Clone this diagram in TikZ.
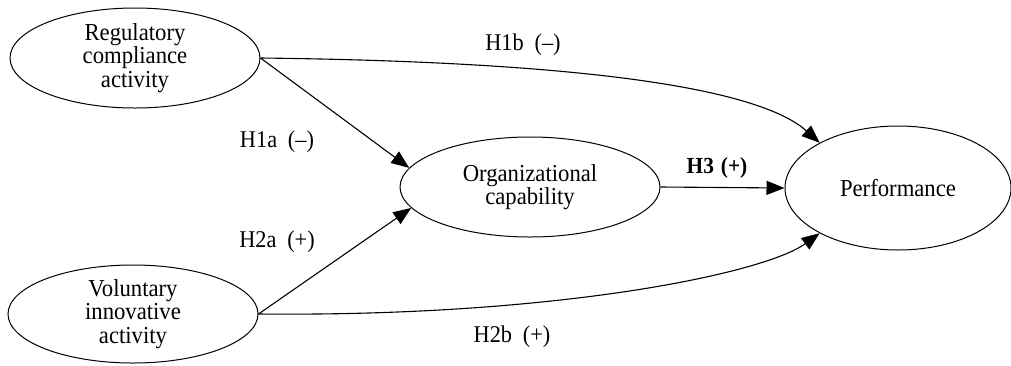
\documentclass[tikz,border=0pt]{standalone}
\usepackage{fontspec}
\setmainfont{Liberation Serif}[FakeStretch=0.93]
\usetikzlibrary{shapes.geometric,arrows.meta}
\begin{document}
\begin{tikzpicture}[x=0.5pt,y=-0.5pt,
  lat/.style={ellipse,draw,line width=0.5pt,inner sep=0pt,align=center,
    font=\fontsize{12.2}{11.6}\selectfont},
  conn/.style={draw,line width=0.55pt,-{Triangle[length=9pt,width=7pt]}},
  hyp/.style={inner sep=0pt,font=\fontsize{12}{12}\selectfont},
  hypb/.style={inner sep=0pt,font=\fontsize{11.5}{12}\selectfont\bfseries}
]
\useasboundingbox (0,0) rectangle (1011,365);
\node[lat,minimum width=125pt,minimum height=50pt] (reg) at (135,58) {Regulatory\\compliance\\activity};
\node[lat,minimum width=125pt,minimum height=49pt] (vol) at (133,314) {Voluntary\\innovative\\activity};
\node[lat,minimum width=130pt,minimum height=50pt] (org) at (530,187) {Organizational\\capability};
\node[lat,minimum width=113pt,minimum height=62pt] (perf) at (898,188) {Performance};

\draw[conn] (reg.east) -- (org.171);
\draw[conn] (vol.east) -- (org.190);
\draw[conn] (org.east) -- (perf.west);
\draw[conn] (reg.east) .. controls +(340,4) and +(-58,-52) .. (perf.150);
\draw[conn] (vol.east) .. controls +(300,3) and +(-55,40) .. (perf.210);

\node[hyp] (l1b) at (523,45) {H1b\hspace{0.45em}(–)};
\node[hyp] (l1a) at (277,142) {H1a\hspace{0.45em}(–)};
\node[hyp] (l2a) at (277,242) {H2a\hspace{0.45em}(+)};
\node[hyp] (l2b) at (512,337) {H2b\hspace{0.45em}(+)};
\node[hypb] (l3) at (717,168) {H3\hspace{0.3em}(+)};
\end{tikzpicture}
\end{document}
